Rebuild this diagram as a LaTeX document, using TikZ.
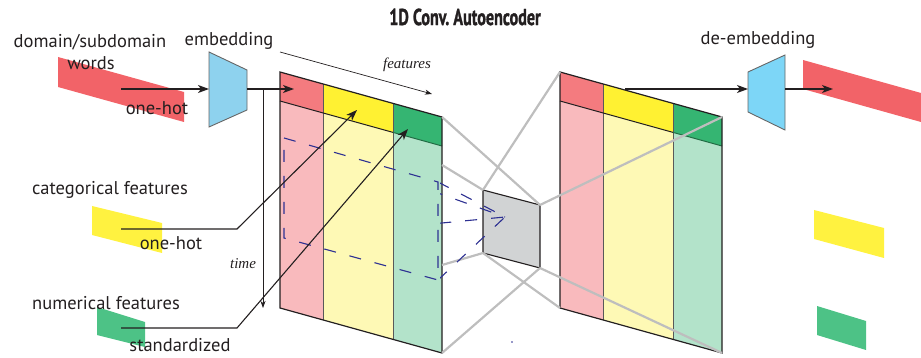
\documentclass[tikz,border=0pt]{standalone}
\usepackage{fontspec}
\setmainfont{PT Sans}
\newfontfamily\itfont{Liberation Serif}
\newfontfamily\titlefont{PT Sans}[BoldFeatures={FakeBold=1.6}]
\usetikzlibrary{arrows.meta}

\definecolor{ink}{RGB}{35,31,32}
\definecolor{bandred}{RGB}{242,99,104}
\definecolor{hdrred}{RGB}{244,123,127}
\definecolor{hdryellow}{RGB}{255,241,50}
\definecolor{hdrgreen}{RGB}{53,181,114}
\definecolor{bodyred}{RGB}{249,186,189}
\definecolor{bodyyellow}{RGB}{254,249,181}
\definecolor{bodygreen}{RGB}{179,227,202}
\definecolor{swyellow}{RGB}{255,242,64}
\definecolor{swgreen}{RGB}{77,194,134}
\definecolor{embblue}{RGB}{142,210,238}
\definecolor{deblue}{RGB}{125,214,247}
\definecolor{wire}{RGB}{190,190,190}
\definecolor{latent}{RGB}{209,211,212}
\definecolor{navy}{RGB}{46,49,146}

\tikzset{
  lbl/.style={font=\fontsize{18.5}{20}\selectfont, text=ink, inner sep=0pt},
  axislbl/.style={font=\fontsize{15}{17}\itfont\itshape, text=ink, inner sep=0pt},
  arr/.style={draw=ink, line width=1.1pt, -{Stealth[length=11pt,width=8pt,inset=3pt]}},
  thinarr/.style={draw=ink, line width=0.7pt, -{Stealth[length=7pt,width=5pt,inset=2pt]}},
  wireline/.style={draw=wire, line width=2.2pt},
  funnel/.style={draw=gray!80!black, line width=0.9pt},
  recept/.style={draw=navy, line width=1.1pt, dash pattern=on 12pt off 14pt},
}

% slanted feature matrix: three columns with a coloured header row
\newcommand{\featmat}[1]{%
  \begin{scope}[shift={(#1,72)}]
    \fill[hdrred]    (0,0) -- (43,11.94) -- (43,40.94) -- (0,29) -- cycle;
    \fill[hdryellow] (43,11.94) -- (113,31.39) -- (113,60.39) -- (43,40.94) -- cycle;
    \fill[hdrgreen]  (113,31.39) -- (162,45) -- (162,74) -- (113,60.39) -- cycle;
    \fill[bodyred]    (0,29) -- (43,40.94) -- (43,247.94) -- (0,236) -- cycle;
    \fill[bodyyellow] (43,40.94) -- (113,60.39) -- (113,267.39) -- (43,247.94) -- cycle;
    \fill[bodygreen]  (113,60.39) -- (162,74) -- (162,281) -- (113,267.39) -- cycle;
    \draw[gray!70!black, line width=0.8pt] (43,11.94) -- (43,247.94)
                                           (113,31.39) -- (113,267.39);
    \draw[ink, line width=1pt] (0,29) -- (113,60.39);
    \draw[hdrgreen!60!black, line width=1pt] (113,60.39) -- (162,74);
    \draw[ink, line width=1.2pt] (0,0) -- (162,45) -- (162,281) -- (0,236) -- cycle;
  \end{scope}}

\begin{document}
\begin{tikzpicture}[x=1pt, y=-1pt]
\useasboundingbox (0,0) rectangle (921,358);

% ---- title
\node[font=\fontsize{23}{26}\titlefont\bfseries, text=ink, inner sep=0pt] (title) at (465,17)
  {\scalebox{0.7}[1]{1D Conv.\ Autoencoder}};

% ---- input swatches
\fill[bandred]  (58,57) -- (184,92) -- (184,122) -- (58,87) -- cycle;
\fill[swyellow] (92,206) -- (162,223) -- (162,253) -- (92,235) -- cycle;
\fill[swgreen]  (97,307) -- (145,322) -- (145,347) -- (97,335) -- cycle;

% ---- output swatches
\fill[bandred]  (803,60) -- (921,93) -- (921,122) -- (803,89) -- cycle;
\fill[swyellow] (814,210) -- (884,228) -- (884,258) -- (814,239) -- cycle;
\fill[swgreen]  (817,306) -- (866,321) -- (866,350) -- (817,335) -- cycle;

% ---- embedding and de-embedding blocks
\draw[funnel, fill=embblue] (209,52) -- (247,70) -- (247,110) -- (209,127) -- cycle;
\draw[funnel, fill=deblue]  (748,72) -- (785,55) -- (785,130) -- (748,112) -- cycle;

% ---- feature matrices
\featmat{280}
\featmat{560}

% ---- latent block
\draw[ink, line width=1.1pt, fill=latent] (483,190) -- (540,205) -- (540,268) -- (483,253) -- cycle;

% corner coordinates
\coordinate (Ltr) at (442,117);
\coordinate (Lm1) at (442,165);
\coordinate (Lm2) at (442,265);
\coordinate (Lbr) at (442,353);
\coordinate (Rtl) at (560,72);
\coordinate (Rtr) at (722,117);
\coordinate (Rbl) at (560,308);
\coordinate (Rbr) at (722,353);
\coordinate (Stl) at (483,190);
\coordinate (Str) at (540,205);
\coordinate (Sbr) at (540,268);
\coordinate (Sbl) at (483,253);

% ---- connections between matrices and latent block
\draw[wireline] (Ltr) -- (Str);
\draw[wireline] (Lm1) -- (Stl);
\draw[wireline] (Lm2) -- (Sbl);
\draw[wireline] (Lbr) -- (Sbr);
\draw[wireline] (Stl) -- (Rtl);
\draw[wireline] (Str) -- (Rtr);
\draw[wireline] (Sbl) -- (Rbl);
\draw[wireline] (Sbr) -- (Rbr);

% ---- receptive field
\coordinate (Fa) at (284,138);
\coordinate (Fb) at (438,182);
\coordinate (Fc) at (438,280);
\coordinate (Fd) at (284,238);
\coordinate (apex) at (505,217);
\draw[recept] (Fa) -- (Fb) -- (Fc) -- (Fd) -- cycle;
\begin{scope}
  \clip (440,0) rectangle (560,358);
  \draw[recept] (Fa) -- (apex);
  \draw[recept] (Fb) -- (apex);
  \draw[recept] (Fc) -- (apex);
  \draw[recept] (Fd) -- (apex);
\end{scope}
\fill[navy] (512,342) circle (0.8);

% ---- arrows
\coordinate (wordsIn) at (121,89);
\coordinate (embIn) at (209,89);
\coordinate (embOut) at (247,89);
\coordinate (matIn) at (294,89);
\draw[arr] (wordsIn) -- (embIn);
\draw[arr] (embOut) -- (matIn);

\coordinate (timeTop) at (263,90);
\coordinate (timeBot) at (263,308);
\draw[thinarr] (timeTop) -- (timeBot);
\coordinate (featL) at (280,52);
\coordinate (featR) at (432,94);
\draw[thinarr] (featL) -- (featR);

\coordinate (catIn) at (121,229);
\coordinate (catBend) at (237,229);
\coordinate (catTip) at (357,110);
\draw[arr] (catIn) -- (catBend) -- (catTip);
\coordinate (numIn) at (121,328);
\coordinate (numBend) at (237,328);
\coordinate (numTip) at (408,129);
\draw[arr] (numIn) -- (numBend) -- (numTip);

\coordinate (outStart) at (625,89);
\coordinate (deIn) at (748,89);
\coordinate (deOut) at (785,89);
\coordinate (bandIn) at (833,89);
\draw[arr] (outStart) -- (deIn);
\draw[arr] (deOut) -- (bandIn);

% ---- labels
\node[lbl] (tDomain) at (90,42) {domain/subdomain};
\node[lbl] (tWords) at (91,63) {words};
\node[lbl] (tHot1) at (157,108) {one-hot};
\node[lbl] (tEmb) at (229,41) {embedding};
\node[lbl] (tCat) at (110,190) {categorical features};
\node[lbl] (tHot2) at (171,243) {one-hot};
\node[lbl] (tNum) at (106,303) {numerical features};
\node[lbl] (tStd) at (180,345) {standardized};
\node[lbl] (tDe) at (758,40) {de-embedding};
\node[axislbl] (tFeat) at (407,65) {features};
\node[axislbl] (tTime) at (243,264) {time};
\end{tikzpicture}
\end{document}
